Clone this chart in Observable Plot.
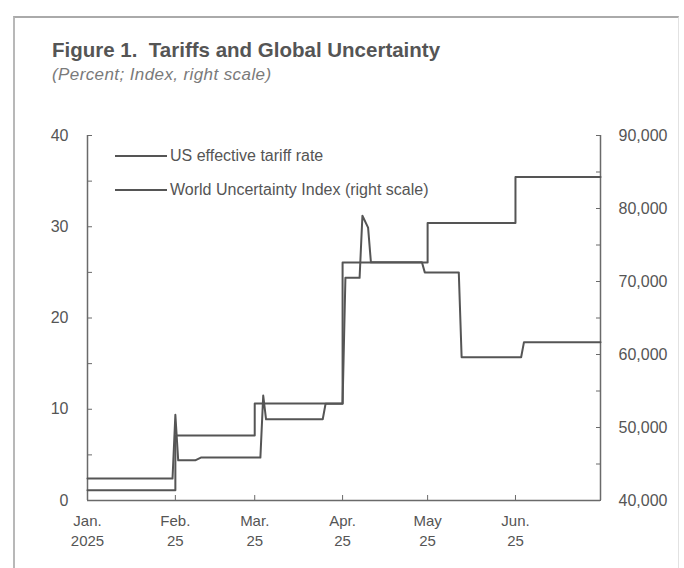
<!DOCTYPE html>
<html>
<head>
<meta charset="utf-8">
<script src="https://cdn.jsdelivr.net/npm/d3@7"></script>
<script src="https://cdn.jsdelivr.net/npm/@observablehq/plot@0.6"></script>
<style>
  body { margin: 0; background: #fff; font-family: "Liberation Sans", Arial, sans-serif; }
  #box { position: absolute; left: 13px; top: 16px; width: 663px; height: 600px;
         border-top: 2px solid #aaa; border-left: 2px solid #b8b8b8; border-right: 1px solid #e2e2e2; }
  #title { position: absolute; left: 52px; top: 39.5px; font-weight: bold; font-size: 20.5px; line-height: 1; color: #555; white-space: pre; }
  #subtitle { position: absolute; left: 52px; top: 65.5px; font-style: italic; font-size: 17px; letter-spacing: 0.4px; line-height: 1; color: #7a7a7a; }
  #chart { position: absolute; left: 0; top: 100px; }
  .leg { position: absolute; left: 115px; display: flex; align-items: center; font-size: 16px; color: #555; white-space: nowrap; }
  .leg span.sw { display: inline-block; width: 52px; height: 0; border-top: 2px solid #555; margin-right: 3px; }
</style>
</head>
<body>
<div id="box"></div>
<div id="title">Figure 1.  Tariffs and Global Uncertainty</div>
<div id="subtitle">(Percent; Index, right scale)</div>
<div id="chart"></div>
<div class="leg" style="top:147px"><span class="sw"></span>US effective tariff rate</div>
<div class="leg" style="top:181px"><span class="sw"></span>World Uncertainty Index (right scale)</div>
<script>
// US effective tariff rate (percent), vertices of the daily series
const tariffDates = ["2025-01-01","2025-01-31","2025-02-01","2025-02-02","2025-02-08","2025-02-10",
  "2025-03-03","2025-03-04","2025-03-05","2025-03-25","2025-03-26","2025-04-01","2025-04-02",
  "2025-04-07","2025-04-08","2025-04-10","2025-04-11","2025-04-29","2025-04-30","2025-05-12",
  "2025-05-13","2025-06-03","2025-06-04","2025-07-01"];
const tariffValues = [2.4,2.4,9.4,4.4,4.4,4.7,
  4.7,11.5,8.9,8.9,10.6,10.6,24.4,
  24.4,31.2,29.9,26.1,26.1,25.0,25.0,
  15.7,15.7,17.35,17.35];

// World Uncertainty Index (monthly, right scale)
const wuiDates = ["2025-01-01","2025-02-01","2025-03-01","2025-04-01","2025-05-01","2025-06-01","2025-07-01"];
const wuiValues = [41400, 48900, 53300, 72600, 78000, 84300, 84300];

// axes
const leftTicks = [0,5,10,15,20,25,30,35,40];
const rightTicks = [40000,45000,50000,55000,60000,65000,70000,75000,80000,85000,90000];
const monthTicks = ["2025-01-01","2025-02-01","2025-03-01","2025-04-01","2025-05-01","2025-06-01"];
const monthLabels = ["Jan.\n2025","Feb.\n25","Mar.\n25","Apr.\n25","May\n25","Jun.\n25"];
const xDomain = ["2025-01-01","2025-07-01"];

const parse = d3.utcParse("%Y-%m-%d");
const toLeft = d3.scaleLinear([40000, 90000], [0, 40]);

const tariff = tariffDates.map((d, i) => ({date: parse(d), value: tariffValues[i]}));
const wui = wuiDates.map((d, i) => ({date: parse(d), value: toLeft(wuiValues[i])}));
const mTicks = monthTicks.map(parse);

const ink = "#555";
const axisInk = "#6a6a6a";

const chart = Plot.plot({
  width: 684,
  height: 468,
  marginLeft: 87,
  marginRight: 84,
  marginTop: 35,
  marginBottom: 68,
  style: {fontFamily: "Liberation Sans, Arial, sans-serif", fontSize: "16px", color: ink, background: "transparent"},
  x: {type: "utc", domain: xDomain.map(parse)},
  y: {domain: [0, 40]},
  marks: [
    // axis lines
    Plot.ruleX([parse(xDomain[0]), parse(xDomain[1])], {stroke: axisInk, strokeWidth: 1.5}),
    Plot.ruleY([0], {stroke: axisInk, strokeWidth: 1.5}),
    // inward ticks
    Plot.axisY(leftTicks, {anchor: "left", tickSize: 5, dx: 5, tickFormat: () => "", label: null, stroke: axisInk}),
    Plot.axisY(rightTicks.map(toLeft), {anchor: "right", tickSize: 5, dx: -5, tickFormat: () => "", label: null, stroke: axisInk}),
    Plot.axisX(mTicks, {anchor: "bottom", tickSize: 5, dy: -5, tickFormat: () => "", label: null, stroke: axisInk}),
    // labels
    Plot.axisY(leftTicks.filter(d => d % 10 === 0), {anchor: "left", tickSize: 0, tickPadding: 19, label: null, fill: ink}),
    Plot.axisY(rightTicks.filter(d => d % 10000 === 0).map(toLeft), {anchor: "right", tickSize: 0, tickPadding: 18, label: null, fill: ink,
      tickFormat: d => d3.format(",")(Math.round(toLeft.invert(d)))}),
    Plot.axisX(mTicks, {anchor: "bottom", tickSize: 0, tickPadding: 12, label: null, fill: ink, fontSize: 15, lineHeight: 1.3,
      tickFormat: (d) => monthLabels[mTicks.findIndex(t => +t === +d)]}),
    // series
    Plot.line(wui, {x: "date", y: "value", curve: "step-after", stroke: ink, strokeWidth: 2}),
    Plot.line(tariff, {x: "date", y: "value", stroke: ink, strokeWidth: 2})
  ]
});
document.getElementById("chart").append(chart);
</script>
</body>
</html>
